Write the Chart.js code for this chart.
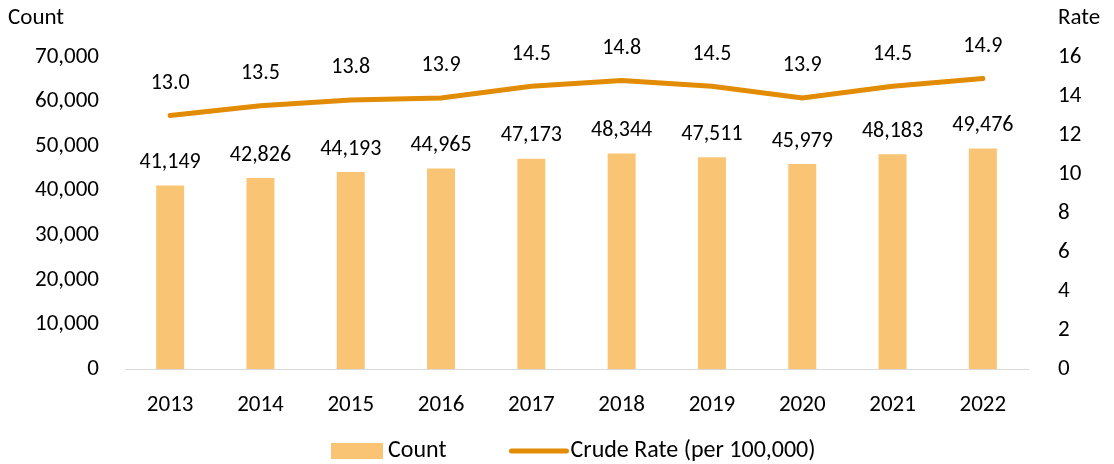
<!DOCTYPE html>
<html>
<head>
<meta charset="utf-8">
<script src="https://cdn.jsdelivr.net/npm/chart.js@4"></script>
<style>
  html, body { margin: 0; padding: 0; background: #fff; }
  #wrap { width: 1114px; height: 464px; position: relative; }
</style>
</head>
<body>
<div id="wrap"><canvas id="chart"></canvas></div>
<script>
// ── data ──
const years = ['2013', '2014', '2015', '2016', '2017', '2018', '2019', '2020', '2021', '2022'];
const counts = [41149, 42826, 44193, 44965, 47173, 48344, 47511, 45979, 48183, 49476];
const rates = [13.0, 13.5, 13.8, 13.9, 14.5, 14.8, 14.5, 13.9, 14.5, 14.9];

const FONT = 'Carlito, Lato, "Open Sans", sans-serif';
const FS = 22;
const barColor = '#FAC475';
const lineColor = '#E28C05';

// value labels, axis titles and the legend row
const labelsPlugin = {
    id: 'valueLabels',
    afterDatasetsDraw(chart) {
        const ctx = chart.ctx;
        ctx.save();
        ctx.font = FS + 'px ' + FONT;
        ctx.fillStyle = '#000';
        ctx.textAlign = 'center';
        ctx.textBaseline = 'middle';
        chart.getDatasetMeta(0).data.forEach((bar, i) => {
            ctx.fillText(counts[i].toLocaleString('en-US'), bar.x, bar.y - 23);
        });
        chart.getDatasetMeta(1).data.forEach((pt, i) => {
            ctx.fillText(rates[i].toFixed(1), pt.x, pt.y - 32);
        });
        ctx.textAlign = 'left';
        ctx.font = '23px ' + FONT;
        ctx.fillText('Count', 8, 18);
        ctx.fillText('Rate', 1058, 18);

        // legend
        ctx.font = '24px ' + FONT;
        const ly = 451;
        const names = chart.data.datasets.map(d => d.label);
        let x = 331;
        ctx.fillStyle = barColor;
        ctx.fillRect(x, ly - 8, 52, 16);
        x += 57;
        ctx.fillStyle = '#000';
        ctx.fillText(names[0], x, ly);
        x += ctx.measureText(names[0]).width + 65;
        ctx.strokeStyle = lineColor;
        ctx.lineWidth = 5;
        ctx.lineCap = 'round';
        ctx.beginPath();
        ctx.moveTo(x, ly);
        ctx.lineTo(x + 55, ly);
        ctx.stroke();
        x += 59;
        ctx.fillText(names[1], x, ly);
        ctx.restore();
    }
};

new Chart(document.getElementById('chart'), {
    data: {
        labels: years,
        datasets: [
            {
                type: 'bar', label: 'Count', data: counts, yAxisID: 'y',
                backgroundColor: barColor, borderWidth: 0,
                barPercentage: 0.31, categoryPercentage: 1, order: 2
            },
            {
                type: 'line', label: 'Crude Rate (per 100,000)', data: rates, yAxisID: 'y2',
                borderColor: lineColor, backgroundColor: lineColor, borderWidth: 5,
                pointRadius: 0, tension: 0, borderCapStyle: 'round', order: 1
            }
        ]
    },
    options: {
        responsive: true,
        maintainAspectRatio: false,
        animation: false,
        layout: { padding: { top: 57, bottom: 0 } },
        plugins: {
            tooltip: { enabled: false },
            legend: { display: false }
        },
        scales: {
            x: {
                grid: { display: false },
                border: { display: true, color: '#D9D9D9', width: 1 },
                ticks: { color: '#000', font: { family: FONT, size: 23 }, padding: 14 },
                afterFit: s => { s.height = 95; }
            },
            y: {
                position: 'left', min: 0, max: 70000,
                grid: { display: false }, border: { display: false },
                ticks: {
                    stepSize: 10000, color: '#000', padding: 18,
                    font: { family: FONT, size: 23 },
                    callback: v => v.toLocaleString('en-US')
                },
                afterFit: s => { s.width = 125; }
            },
            y2: {
                position: 'right', min: 0, max: 16,
                grid: { display: false }, border: { display: false },
                ticks: {
                    stepSize: 2, color: '#000', padding: 22,
                    font: { family: FONT, size: 23 }
                },
                afterFit: s => { s.width = 86; }
            }
        }
    },
    plugins: [labelsPlugin]
});
</script>
</body>
</html>
